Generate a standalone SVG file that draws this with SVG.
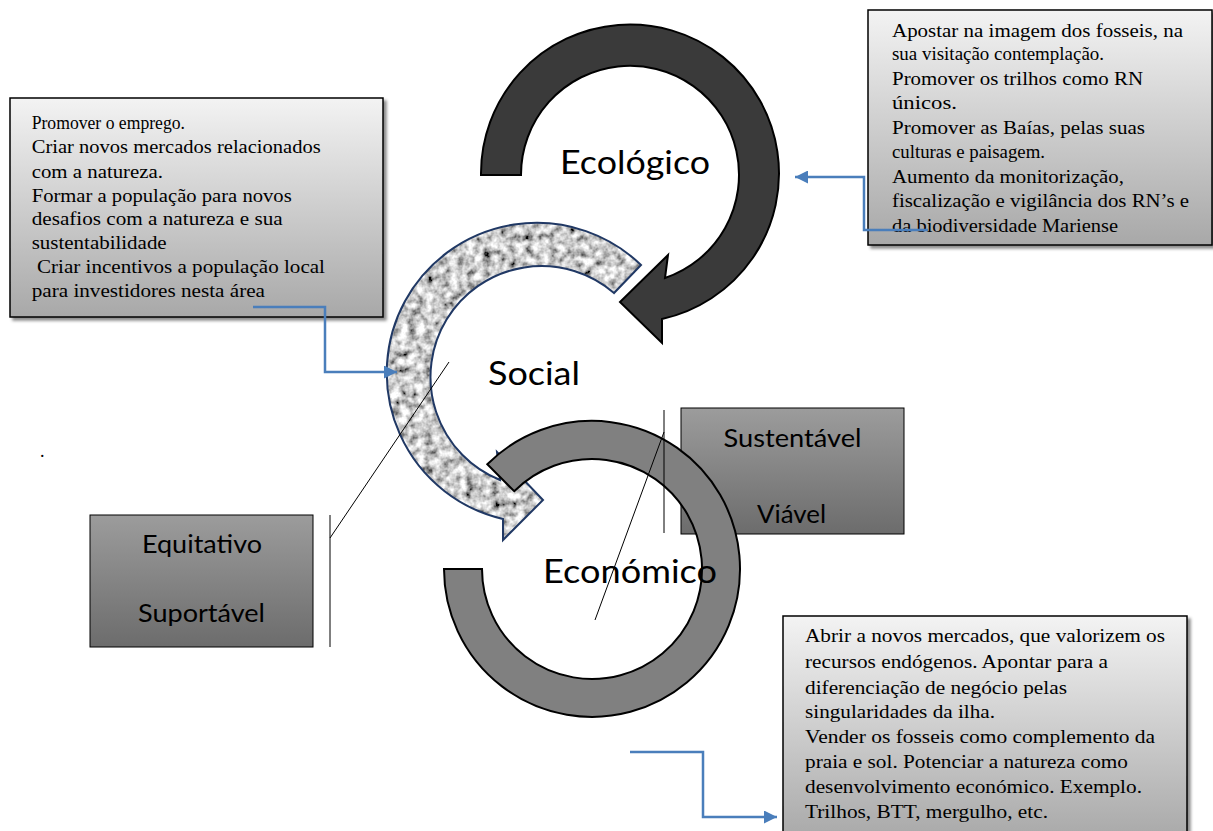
<svg xmlns="http://www.w3.org/2000/svg" width="1213" height="831" viewBox="0 0 1213 831">
<style>
.note{font-family:"Liberation Serif","Times New Roman",serif;font-size:18px;fill:#000}
.big{font-family:Lato,"Liberation Sans",sans-serif;font-size:33px;fill:#000}
.mid{font-family:Lato,"Liberation Sans",sans-serif;font-size:25px;fill:#000}
.tbox{fill:url(#boxGrad);stroke:#000;stroke-width:1.5}
.sbox{fill:url(#darkGrad);stroke:#000;stroke-width:1}
.thin{stroke:#000;stroke-width:1;fill:none}
.conn{stroke:#4a7ebb;stroke-width:2.5;fill:none}
</style>
<defs>
<linearGradient id="boxGrad" x1="0" y1="0" x2="0" y2="1">
<stop offset="0" stop-color="#f3f3f3"/>
<stop offset="1" stop-color="#a8a8a8"/>
</linearGradient>
<linearGradient id="darkGrad" x1="0" y1="0" x2="0" y2="1">
<stop offset="0" stop-color="#9c9c9c"/>
<stop offset="1" stop-color="#6c6c6c"/>
</linearGradient>
<filter id="shadow" x="-5%" y="-5%" width="115%" height="115%">
<feDropShadow dx="3" dy="3" stdDeviation="1.5" flood-color="#000" flood-opacity="0.45"/>
</filter>
<filter id="granite" x="0" y="0" width="1" height="1">
<feTurbulence type="fractalNoise" baseFrequency="0.12" numOctaves="3" seed="4" result="noise"/>
<feColorMatrix in="noise" type="matrix" values="1.8 0 0 0 -0.3  1.8 0 0 0 -0.3  1.8 0 0 0 -0.3  0 0 0 0 1" result="g"/>
<feComposite in="g" in2="SourceGraphic" operator="in"/>
</filter>
<marker id="arr" viewBox="0 0 10 10" refX="10" refY="5" markerWidth="13" markerHeight="13" markerUnits="userSpaceOnUse" orient="auto">
<path d="M0,0 L10,5 L0,10 z" fill="#4a7ebb"/>
</marker>
<path id="socialShape" d="M641,265 A150,150 0 1,0 503,519 L503,540 L543,500 L497,452 L500,480 A111,111 0 1,1 614,293 Z"/>
</defs>

<g id="box-sustentavel">
<rect class="sbox" x="681" y="408" width="223" height="126"/>
<text class="mid" x="792.5" y="447" text-anchor="middle" textLength="138" lengthAdjust="spacingAndGlyphs">Sustentável</text>
<text class="mid" x="791.5" y="523" text-anchor="middle" textLength="69" lengthAdjust="spacingAndGlyphs">Viável</text>
</g>

<g id="box-equitativo">
<rect class="sbox" x="90" y="515" width="223" height="132"/>
<text class="mid" x="202" y="553" text-anchor="middle" textLength="120" lengthAdjust="spacingAndGlyphs">Equitativo</text>
<text class="mid" x="201.5" y="622" text-anchor="middle" textLength="127" lengthAdjust="spacingAndGlyphs">Suportável</text>
</g>

<g id="note-social">
<rect class="tbox" x="10" y="98" width="373" height="219" filter="url(#shadow)"/>
<g class="note">
<text x="31.7" y="129" textLength="153.3" lengthAdjust="spacingAndGlyphs">Promover o emprego.</text>
<text x="31.7" y="153" textLength="289" lengthAdjust="spacingAndGlyphs">Criar novos mercados relacionados</text>
<text x="31.7" y="178" textLength="131.3" lengthAdjust="spacingAndGlyphs">com a natureza.</text>
<text x="31.7" y="202" textLength="260" lengthAdjust="spacingAndGlyphs">Formar a população para novos</text>
<text x="31.7" y="225" textLength="251" lengthAdjust="spacingAndGlyphs">desafios com a natureza e sua</text>
<text x="31.7" y="249" textLength="135" lengthAdjust="spacingAndGlyphs">sustentabilidade</text>
<text x="31.7" y="273" textLength="293.3" lengthAdjust="spacingAndGlyphs" xml:space="preserve"> Criar incentivos a população local</text>
<text x="31.7" y="297" textLength="233.3" lengthAdjust="spacingAndGlyphs">para investidores nesta área</text>
</g>
</g>

<g id="note-ecologico">
<rect class="tbox" x="868" y="10" width="344" height="235" filter="url(#shadow)"/>
<g class="note">
<text x="892" y="37" textLength="291" lengthAdjust="spacingAndGlyphs">Apostar na imagem dos fosseis, na</text>
<text x="892" y="60" textLength="212" lengthAdjust="spacingAndGlyphs">sua visitação contemplação.</text>
<text x="892" y="85" textLength="251" lengthAdjust="spacingAndGlyphs">Promover os trilhos como RN</text>
<text x="892" y="109" textLength="65" lengthAdjust="spacingAndGlyphs">únicos.</text>
<text x="892" y="134" textLength="253" lengthAdjust="spacingAndGlyphs">Promover as Baías, pelas suas</text>
<text x="892" y="158" textLength="153" lengthAdjust="spacingAndGlyphs">culturas e paisagem.</text>
<text x="892" y="183" textLength="232" lengthAdjust="spacingAndGlyphs">Aumento da monitorização,</text>
<text x="892" y="207" textLength="297" lengthAdjust="spacingAndGlyphs">fiscalização e vigilância dos RN’s e</text>
<text x="892" y="232" textLength="226" lengthAdjust="spacingAndGlyphs">da biodiversidade Mariense</text>
</g>
</g>

<g id="note-economico">
<rect class="tbox" x="783" y="616" width="404" height="225" filter="url(#shadow)"/>
<g class="note">
<text x="805" y="642" textLength="360" lengthAdjust="spacingAndGlyphs">Abrir a novos mercados, que valorizem os</text>
<text x="805" y="668" textLength="303" lengthAdjust="spacingAndGlyphs">recursos endógenos. Apontar para a</text>
<text x="805" y="694" textLength="262" lengthAdjust="spacingAndGlyphs">diferenciação de negócio pelas</text>
<text x="805" y="718" textLength="190" lengthAdjust="spacingAndGlyphs">singularidades da ilha.</text>
<text x="805" y="743" textLength="350" lengthAdjust="spacingAndGlyphs">Vender os fosseis como complemento da</text>
<text x="805" y="768" textLength="323" lengthAdjust="spacingAndGlyphs">praia e sol. Potenciar a natureza como</text>
<text x="805" y="793" textLength="337" lengthAdjust="spacingAndGlyphs">desenvolvimento económico. Exemplo.</text>
<text x="805" y="818" textLength="243" lengthAdjust="spacingAndGlyphs">Trilhos, BTT, mergulho, etc.</text>
</g>
</g>

<g id="arrow-ecologico">
<path d="M481,175 A149,149 0 1,1 662,319 L662,343 L620,302 L668,255 L665,278 A109,109 0 1,0 521,175 Z" fill="#3a3a3a" stroke="#000" stroke-width="2" stroke-linejoin="miter"/>
<text class="big" x="635" y="174" text-anchor="middle" textLength="150" lengthAdjust="spacingAndGlyphs">Ecológico</text>
</g>

<g id="arrow-social">
<use href="#socialShape" fill="#a8a8a8" filter="url(#granite)"/>
<use href="#socialShape" fill="none" stroke="#203864" stroke-width="2"/>
<text class="big" x="534" y="385" text-anchor="middle" textLength="92" lengthAdjust="spacingAndGlyphs">Social</text>
</g>

<g id="arc-economico">
<path d="M444,569 A148,148 0 1,0 487.3,464.3 L514.2,491.2 A110,110 0 1,1 482,569 Z" fill="#808080" stroke="#000" stroke-width="2"/>
</g>

<g id="lines">
<line class="thin" x1="330" y1="515" x2="330" y2="647"/>
<line class="thin" x1="330" y1="538" x2="449" y2="362"/>
<line class="thin" x1="664" y1="410" x2="664" y2="533"/>
<line class="thin" x1="664" y1="432" x2="595" y2="620"/>
</g>

<g id="label-economico">
<text class="big" x="630" y="583" text-anchor="middle" textLength="174" lengthAdjust="spacingAndGlyphs">Económico</text>
</g>

<g id="dot">
<text class="note" x="40" y="457">.</text>
</g>

<g id="connectors">
<path class="conn" d="M253,307 H325 V372 H397" marker-end="url(#arr)"/>
<path class="conn" d="M928,230 H864 V177 H795" marker-end="url(#arr)"/>
<path class="conn" d="M630,752 H703 V817 H777" marker-end="url(#arr)"/>
</g>
</svg>
